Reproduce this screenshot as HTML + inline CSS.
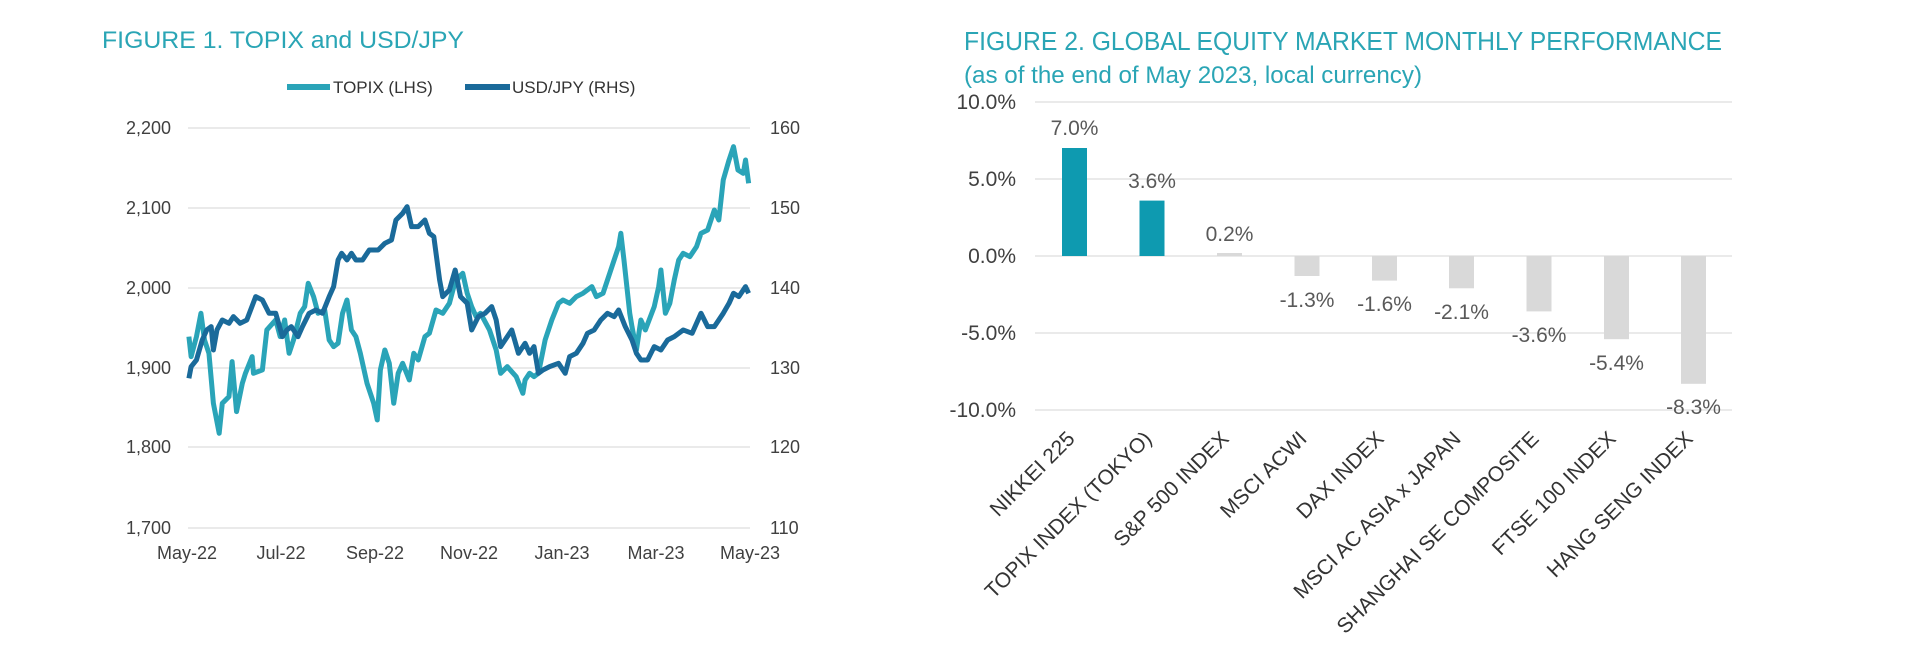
<!DOCTYPE html>
<html><head><meta charset="utf-8"><style>
html,body{margin:0;padding:0;background:#fff;}
svg{display:block;font-family:"Liberation Sans",sans-serif;}
</style></head><body>
<svg width="1920" height="649" viewBox="0 0 1920 649" xmlns="http://www.w3.org/2000/svg">
<!-- Figure 1 -->
<text x="102" y="48" font-size="24" fill="#2aa5b5" textLength="362" lengthAdjust="spacingAndGlyphs">FIGURE 1. TOPIX and USD/JPY</text>
<line x1="287" y1="87" x2="330" y2="87" stroke="#2aa4b8" stroke-width="6"/>
<text x="333" y="93" font-size="17" fill="#333">TOPIX (LHS)</text>
<line x1="465" y1="87" x2="510" y2="87" stroke="#1a6a9a" stroke-width="6"/>
<text x="512" y="93" font-size="17" fill="#333">USD/JPY (RHS)</text>
<g stroke="#dedede" stroke-width="1.3">
<line x1="188" y1="128" x2="750" y2="128"/><line x1="188" y1="208" x2="750" y2="208"/>
<line x1="188" y1="288" x2="750" y2="288"/><line x1="188" y1="368" x2="750" y2="368"/>
<line x1="188" y1="447" x2="750" y2="447"/><line x1="188" y1="528" x2="750" y2="528"/>
</g>
<g font-size="18" fill="#404040" text-anchor="end">
<text x="171" y="134">2,200</text><text x="171" y="214">2,100</text><text x="171" y="294">2,000</text>
<text x="171" y="374">1,900</text><text x="171" y="453">1,800</text><text x="171" y="534">1,700</text>
</g>
<g font-size="18" fill="#404040">
<text x="770" y="134">160</text><text x="770" y="214">150</text><text x="770" y="294">140</text>
<text x="770" y="374">130</text><text x="770" y="453">120</text><text x="770" y="534">110</text>
</g>
<g font-size="18" fill="#404040" text-anchor="middle">
<text x="187" y="559">May-22</text><text x="281" y="559">Jul-22</text><text x="375" y="559">Sep-22</text>
<text x="469" y="559">Nov-22</text><text x="562" y="559">Jan-23</text><text x="656" y="559">Mar-23</text>
<text x="750" y="559">May-23</text>
</g>
<g transform="matrix(0.4453,0,0,0.3333,79.8,20)" fill="none" stroke-linejoin="round">
<polyline vector-effect="non-scaling-stroke" stroke="#2aa4b8" stroke-width="5" points="245,950 250,1010 262,950 272,880 280,960 290,1000 300,1150 313,1240 320,1150 335,1130 342,1025 352,1175 365,1090 372,1060 387,1010 390,1060 410,1050 420,930 440,900 450,950 460,900 470,1000 480,960 495,880 505,860 513,790 525,830 535,880 550,870 560,960 570,980 580,970 590,880 600,840 610,930 620,950 630,1000 645,1090 660,1150 668,1200 675,1050 685,990 695,1030 705,1150 715,1060 725,1030 740,1080 750,1000 760,1020 775,950 785,940 800,870 815,880 830,850 840,800 852,770 860,760 870,820 880,860 890,890 900,880 920,930 935,990 945,1060 960,1040 980,1070 995,1120 1000,1080 1010,1060 1020,1070 1030,1060 1045,960 1060,900 1075,850 1085,840 1100,850 1115,830 1130,820 1150,800 1160,830 1175,820 1190,760 1200,720 1210,680 1215,640 1222,720 1235,880 1240,920 1250,990 1260,900 1270,930 1290,860 1300,800 1305,750 1315,880 1325,850 1335,780 1345,720 1355,700 1370,710 1385,680 1395,640 1410,630 1425,570 1435,600 1445,480 1458,420 1468,380 1478,450 1490,460 1495,420 1502,490"/>
<polyline vector-effect="non-scaling-stroke" stroke="#1a6a9a" stroke-width="5" points="245,1075 250,1040 262,1020 275,960 285,930 295,920 300,990 308,930 320,900 335,910 345,890 360,910 375,900 395,830 410,840 425,880 440,880 455,950 465,930 475,920 490,950 500,920 515,880 530,870 545,880 560,830 570,800 580,720 588,700 600,720 610,700 620,720 635,720 650,690 670,690 685,670 700,660 710,600 725,580 735,560 745,620 760,620 775,600 785,640 795,650 808,780 815,830 830,810 843,750 855,830 870,850 880,930 895,890 910,880 925,860 935,900 945,980 955,960 970,930 985,1000 1000,970 1010,1000 1020,980 1030,1060 1040,1050 1055,1040 1075,1030 1090,1060 1100,1010 1115,1000 1130,970 1140,940 1155,930 1170,900 1185,880 1200,890 1210,870 1225,920 1240,960 1250,1000 1260,1020 1275,1020 1290,980 1305,990 1320,960 1335,950 1355,930 1375,940 1395,880 1410,920 1425,920 1445,880 1458,850 1468,820 1480,830 1495,800 1502,820"/>
</g>
<!-- Figure 2 -->
<text x="964" y="50" font-size="26" fill="#2aa5b5" textLength="758" lengthAdjust="spacingAndGlyphs">FIGURE 2. GLOBAL EQUITY MARKET MONTHLY PERFORMANCE</text>
<text x="964" y="83" font-size="24" fill="#2aa5b5" textLength="458" lengthAdjust="spacingAndGlyphs">(as of the end of May 2023, local currency)</text>
<g stroke="#dedede" stroke-width="1.3">
<line x1="1035" y1="102" x2="1732" y2="102"/><line x1="1035" y1="179" x2="1732" y2="179"/>
<line x1="1035" y1="256" x2="1732" y2="256"/><line x1="1035" y1="333" x2="1732" y2="333"/>
<line x1="1035" y1="410" x2="1732" y2="410"/>
</g>
<g font-size="21" fill="#404040" text-anchor="end">
<text x="1016" y="109">10.0%</text><text x="1016" y="186">5.0%</text><text x="1016" y="263">0.0%</text>
<text x="1016" y="340">-5.0%</text><text x="1016" y="417">-10.0%</text>
</g>
<g>
<rect x="1062" y="148" width="25" height="108" fill="#0e9ab0"/>
<rect x="1139.5" y="200.6" width="25" height="55.4" fill="#0e9ab0"/>
<rect x="1217" y="253" width="25" height="3" fill="#d9d9d9"/>
<rect x="1294.5" y="256" width="25" height="20" fill="#d9d9d9"/>
<rect x="1372" y="256" width="25" height="24.6" fill="#d9d9d9"/>
<rect x="1449" y="256" width="25" height="32.3" fill="#d9d9d9"/>
<rect x="1526.5" y="256" width="25" height="55.4" fill="#d9d9d9"/>
<rect x="1604" y="256" width="25" height="83.2" fill="#d9d9d9"/>
<rect x="1681" y="256" width="25" height="127.8" fill="#d9d9d9"/>
</g>
<g font-size="21" fill="#595959" text-anchor="middle">
<text x="1074.5" y="135">7.0%</text><text x="1152" y="188">3.6%</text><text x="1229.5" y="241">0.2%</text>
<text x="1307" y="307">-1.3%</text><text x="1384.5" y="311">-1.6%</text><text x="1461.5" y="319">-2.1%</text>
<text x="1539" y="342">-3.6%</text><text x="1616.5" y="370">-5.4%</text><text x="1693.5" y="414">-8.3%</text>
</g>
<g font-size="21" fill="#333" text-anchor="end">
<text transform="translate(1076,440) rotate(-45)">NIKKEI 225</text>
<text transform="translate(1153,440) rotate(-45)">TOPIX INDEX (TOKYO)</text>
<text transform="translate(1230,440) rotate(-45)">S&amp;P 500 INDEX</text>
<text transform="translate(1308,440) rotate(-45)">MSCI ACWI</text>
<text transform="translate(1385,440) rotate(-45)">DAX INDEX</text>
<text transform="translate(1462,440) rotate(-45)">MSCI AC ASIA x JAPAN</text>
<text transform="translate(1540,440) rotate(-45)">SHANGHAI SE COMPOSITE</text>
<text transform="translate(1617,440) rotate(-45)">FTSE 100 INDEX</text>
<text transform="translate(1694,440) rotate(-45)">HANG SENG INDEX</text>
</g>
</svg>
</body></html>
